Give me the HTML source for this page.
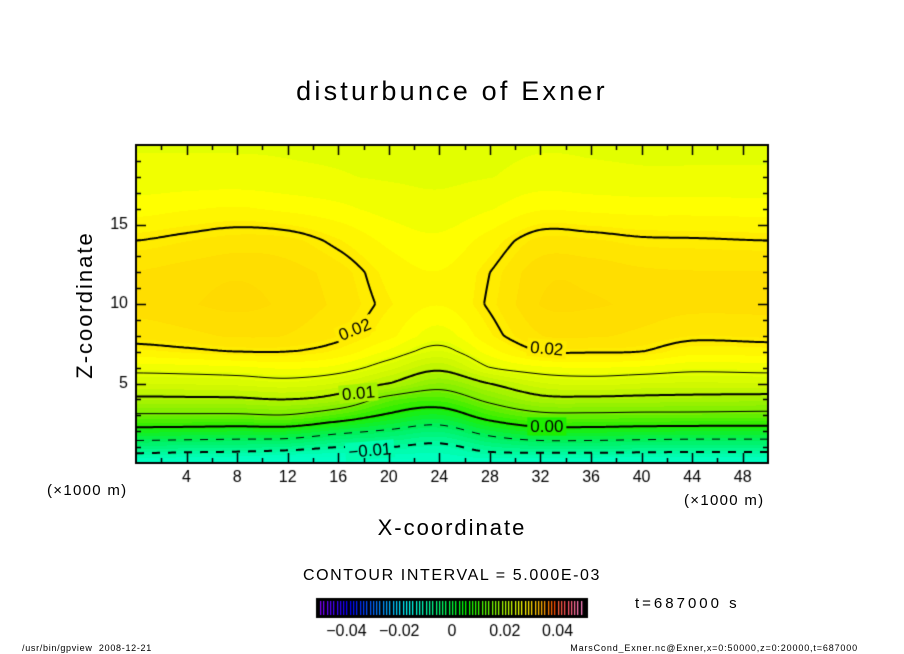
<!DOCTYPE html>
<html><head><meta charset="utf-8">
<style>
body{margin:0;background:#fff;}
#wrap{position:relative;width:904px;height:654px;overflow:hidden;background:#fff;font-family:"Liberation Sans",sans-serif;}
.t{position:absolute;white-space:nowrap;color:#000;}
</style></head>
<body>
<div id="wrap">
<div class="t" style="left:0;width:904px;text-align:center;top:76px;font-size:27px;letter-spacing:3.2px;">disturbunce of Exner</div>
<canvas id="cv" width="904" height="654" style="position:absolute;left:0;top:0"></canvas>
<div class="t" style="left:47px;top:482px;font-size:15px;letter-spacing:1.3px;">(×1000 m)</div>
<div class="t" style="left:684px;top:492px;font-size:15px;letter-spacing:1.3px;">(×1000 m)</div>
<div class="t" style="left:0;width:904px;text-align:center;top:515px;font-size:22px;letter-spacing:2px;">X-coordinate</div>
<div class="t" style="left:85px;top:305px;font-size:22px;letter-spacing:2px;transform:translate(-50%,-50%) rotate(-90deg);">Z-coordinate</div>
<div class="t" style="left:0;width:904px;text-align:center;top:567px;font-size:16px;letter-spacing:1.6px;">CONTOUR INTERVAL = 5.000E-03</div>
<div class="t" style="left:635px;top:595px;font-size:15px;letter-spacing:3px;">t=687000 s</div>
<div class="t" style="left:22px;top:643px;font-size:9px;letter-spacing:0.7px;">/usr/bin/gpview &nbsp;2008-12-21</div>
<div class="t" style="right:46px;top:643px;font-size:9px;letter-spacing:0.85px;">MarsCond_Exner.nc@Exner,x=0:50000,z=0:20000,t=687000</div>
</div>
<script>
// Data grid
const xs=[0,4,8,12,16,20,24,28,32,36,40,44,50];
const zs=[0,1,2,3,4,5,6,7,8,10,12,14,16,18,20];
const cols=[
[-0.014,-0.0075,-0.0015,0.0045,0.0093,0.0130,0.0160,0.0190,0.0210,0.0225,0.0220,0.0200,0.0175,0.0160,0.0155],
[-0.0145,-0.0078,-0.0017,0.0045,0.0094,0.0132,0.0162,0.0195,0.0215,0.0230,0.0226,0.0206,0.0180,0.0160,0.0155],
[-0.015,-0.008,-0.002,0.0045,0.0095,0.0135,0.0165,0.0200,0.0220,0.0235,0.0230,0.0212,0.0183,0.0160,0.0155],
[-0.016,-0.0085,-0.0020,0.0048,0.0100,0.0140,0.0170,0.0200,0.0218,0.0228,0.0225,0.0210,0.0178,0.0158,0.0155],
[-0.0155,-0.0100,-0.0040,0.0025,0.0085,0.0128,0.0163,0.0190,0.0206,0.0215,0.0212,0.0195,0.0172,0.0157,0.0154],
[-0.0145,-0.0100,-0.0055,-0.0005,0.0035,0.0100,0.0136,0.0165,0.0185,0.0195,0.0190,0.0178,0.0164,0.0155,0.0152],
[-0.0135,-0.011,-0.0068,-0.0022,0.0023,0.0067,0.0108,0.0142,0.0162,0.0182,0.0182,0.0172,0.0160,0.0154,0.0152],
[-0.0135,-0.0085,-0.0035,0.0017,0.0060,0.0100,0.0150,0.0175,0.0192,0.0203,0.0200,0.0188,0.0168,0.0156,0.0153],
[-0.0145,-0.0075,-0.0015,0.0040,0.0090,0.0128,0.0165,0.0200,0.0218,0.0232,0.0228,0.0210,0.0180,0.0160,0.0155],
[-0.0145,-0.0075,-0.0015,0.0042,0.0092,0.0135,0.0168,0.0202,0.0220,0.0233,0.0228,0.0208,0.0178,0.0158,0.0155],
[-0.0145,-0.0078,-0.0018,0.0040,0.0090,0.0130,0.0165,0.0200,0.0215,0.0228,0.0222,0.0203,0.0176,0.0157,0.0155],
[-0.0145,-0.008,-0.0020,0.0040,0.0088,0.0128,0.0158,0.0186,0.0206,0.0224,0.0220,0.0202,0.0176,0.0157,0.0155],
[-0.0145,-0.008,-0.0020,0.0038,0.0085,0.0130,0.0160,0.0188,0.0208,0.0224,0.0220,0.0200,0.0175,0.0157,0.0155]
];
const levels=[-0.01,-0.005,0,0.005,0.01,0.015,0.02];
const xTicks=[4,8,12,16,20,24,28,32,36,40,44,48];
const zTicks=[5,10,15];
const cbTicks=[-0.04,-0.02,0,0.02,0.04];
const cbTickText=["−0.04","−0.02","0","0.02","0.04"];
const labels=[{t:"0.02",x:17.3,z:8.4,a:-22},{t:"0.02",x:32.5,z:7.2,a:5},{t:"0.01",x:17.6,z:4.4,a:-5},{t:"0.00",x:32.5,z:2.3,a:0},{t:"−0.01",x:18.5,z:0.8,a:-5}];

const L=136,R=768,T=145,B=463;
const X=x=>L+(x/50)*(R-L), Z=z=>B-(z/20)*(B-T);
function seg(a,v){let i=0;while(i<a.length-2&&v>a[i+1])i++;return [i,(v-a[i])/(a[i+1]-a[i])];}
function colAt(x,j){const [i,u]=seg(xs,x);
 const p0=cols[Math.max(i-1,0)][j],p1=cols[i][j],p2=cols[i+1][j],p3=cols[Math.min(i+2,cols.length-1)][j];
 const u2=u*u,u3=u2*u;
 return 0.5*((2*p1)+(-p0+p2)*u+(2*p0-5*p1+4*p2-p3)*u2+(-p0+3*p1-3*p2+p3)*u3);}
function field(x,z){const [j,w]=seg(zs,z);return colAt(x,j)*(1-w)+colAt(x,j+1)*w;}
const stops=[[-0.02,[0,255,220]],[-0.0125,[0,255,190]],[-0.01,[0,250,160]],[-0.005,[0,240,90]],[0,[30,238,0]],[0.005,[120,238,0]],[0.01,[180,244,0]],[0.0125,[208,248,0]],[0.015,[226,255,0]],[0.0175,[255,255,0]],[0.02,[255,236,0]],[0.0225,[255,222,0]],[0.03,[255,200,0]]];
function cmap(v){v=Math.round(v/0.00125)*0.00125;if(v<=stops[0][0])return stops[0][1];
 for(let k=0;k<stops.length-1;k++){if(v<=stops[k+1][0]){const t=(v-stops[k][0])/(stops[k+1][0]-stops[k][0]);return stops[k][1].map((c,n)=>Math.round(c+(stops[k+1][1][n]-c)*t));}}
 return stops[stops.length-1][1];}
const cv=document.getElementById('cv'),ctx=cv.getContext('2d');
const W=R-L,H=B-T,img=ctx.createImageData(W,H);
for(let py=0;py<H;py++)for(let px=0;px<W;px++){const v=field(px/W*50,20-py/H*20);const c=cmap(v);const o=(py*W+px)*4;img.data[o]=c[0];img.data[o+1]=c[1];img.data[o+2]=c[2];img.data[o+3]=255;}
ctx.putImageData(img,L,T);
// contours (marching squares)
const st=2,nx=Math.ceil(W/st),nz=Math.ceil(H/st),g=[];
for(let i=0;i<=nx;i++){g[i]=[];for(let j=0;j<=nz;j++)g[i][j]=field(Math.min(i*st,W)/W*50,Math.min(j*st,H)/H*20);}
levels.forEach(lv=>{
 const thick=Math.abs(Math.round(lv/0.005))%2===0;
 ctx.lineWidth=thick?2:1;ctx.strokeStyle='#000';
 ctx.beginPath();
 for(let i=0;i<nx;i++){
  if(lv<0 && Math.floor(i*st/8)%2===1)continue;
  for(let j=0;j<nz;j++){
  const P=[[i,j],[i+1,j],[i+1,j+1],[i,j+1]],pts=[];
  for(let e=0;e<4;e++){const a=P[e],b=P[(e+1)%4],va=g[a[0]][a[1]],vb=g[b[0]][b[1]];
   if((va<lv)!==(vb<lv)){const t=(lv-va)/(vb-va);pts.push([L+Math.min((a[0]+(b[0]-a[0])*t)*st,W),B-Math.min((a[1]+(b[1]-a[1])*t)*st,H)]);}}
  for(let k=0;k+1<pts.length;k+=2){ctx.moveTo(pts[k][0],pts[k][1]);ctx.lineTo(pts[k+1][0],pts[k+1][1]);}
 }}
 ctx.stroke();
});
// contour labels
labels.forEach(o=>{ctx.save();ctx.translate(X(o.x),Z(o.z));ctx.rotate(o.a*Math.PI/180);ctx.font='17px "Liberation Sans",sans-serif';
 const w=ctx.measureText(o.t).width;const c=cmap(field(o.x,o.z));ctx.fillStyle=`rgb(${c[0]},${c[1]},${c[2]})`;ctx.fillRect(-w/2-3,-9,w+6,18);
 ctx.fillStyle='#000';ctx.textAlign='center';ctx.textBaseline='middle';ctx.fillText(o.t,0,1);ctx.restore();});
// frame and ticks
ctx.strokeStyle='#000';ctx.lineWidth=2;ctx.strokeRect(L,T,W,H);ctx.lineWidth=1.5;
ctx.beginPath();
for(let x=1;x<50;x++){const major=x%4===0,minor=x%2===0;const len=major?10:(minor?5:0);if(!len)continue;const px=Math.round(X(x))+0.5;
 ctx.moveTo(px,B);ctx.lineTo(px,B-len);ctx.moveTo(px,T);ctx.lineTo(px,T+len);}
for(let z=1;z<20;z++){const len=z%5===0?10:5;const py=Math.round(Z(z))+0.5;ctx.moveTo(L,py);ctx.lineTo(L+len,py);ctx.moveTo(R,py);ctx.lineTo(R-len,py);}
ctx.stroke();
ctx.fillStyle='#000';ctx.font='16px "Liberation Sans",sans-serif';ctx.textAlign='center';ctx.textBaseline='middle';
xTicks.forEach(x=>ctx.fillText(String(x),X(x),478));
ctx.textAlign='right';zTicks.forEach(z=>ctx.fillText(String(z),128,Z(z)));
// colorbar
const cbL=316,cbR=588,cbT=598,cbB=618;
ctx.fillStyle='#000';ctx.fillRect(cbL,cbT,cbR-cbL,cbB-cbT);
const cbScale=v=>cbL+4+(v+0.05)/0.1*(cbR-cbL-8);
function rainbow(t){const h=(1-t)*270-(t>0.85?(t-0.85)*200:0);const l=t>0.9?60+(t-0.9)*150:50;return `hsl(${h},100%,${Math.min(l,75)}%)`;}
for(let k=0;k<80;k++){const v=-0.05+k*0.00125;ctx.fillStyle=rainbow(k/79);ctx.fillRect(Math.round(cbScale(v)),cbT+3,1.3,cbB-cbT-6);}
ctx.strokeStyle='#000';ctx.lineWidth=1;ctx.strokeRect(cbL+0.5,cbT+0.5,cbR-cbL-1,cbB-cbT-1);
ctx.fillStyle='#000';ctx.font='16px "Liberation Sans",sans-serif';ctx.textAlign='center';
cbTicks.forEach((v,k)=>ctx.fillText(cbTickText[k],cbScale(v),632));
</script>
</body></html>
